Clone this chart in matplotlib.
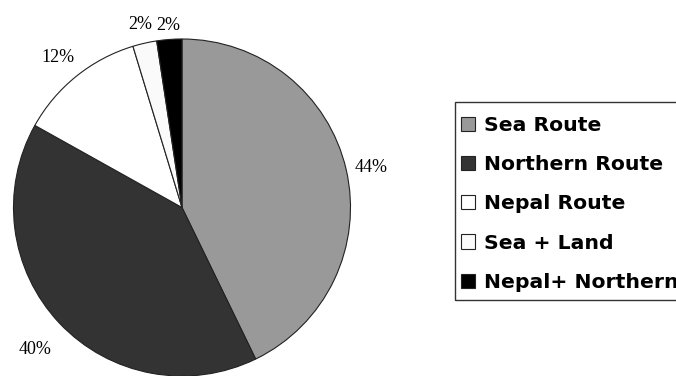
import matplotlib
matplotlib.use("Agg")
import matplotlib.pyplot as plt
from matplotlib.patches import Rectangle
import numpy as np

categories = ["Sea Route", "Northern Route", "Nepal Route", "Sea + Land", "Nepal+ Northern"]
values = [42.8, 40.3, 12.2, 2.3, 2.4]          # wedge sizes as drawn in the picture
labels = ["44%", "40%", "12%", "2%", "2%"]      # printed labels
colors = ["#999999", "#333333", "#ffffff", "#fafafa", "#000000"]

# layout: radial distance of each label (in pie radii)
label_dist = [1.15, 1.20, 1.17, 1.13, 1.10]

W, H = 676, 376
fig = plt.figure(figsize=(W / 100, H / 100), dpi=100)
cx, cy, r = 182, 207.5, 168.5
ax = fig.add_axes([(cx - r) / W, (H - cy - r) / H, 2 * r / W, 2 * r / H])

label_iter = iter(labels)
wedges, texts, pcts = ax.pie(values, colors=colors, startangle=90, counterclock=False,
                             autopct=lambda p: next(label_iter), pctdistance=1.16,
                             wedgeprops=dict(edgecolor="#222222", linewidth=0.8),
                             textprops=dict(family="Liberation Serif", fontsize=13))
dy = -3.0 / r
for w, t, d in zip(wedges, pcts, label_dist):
    mid = np.deg2rad((w.theta1 + w.theta2) / 2)
    t.set_position((d * np.cos(mid), d * np.sin(mid) + dy))
ax.set_xlim(-1, 1)
ax.set_ylim(-1, 1)
ax.set_aspect("equal")
ax.axis("off")

# legend entries (frame drawn separately)
leg = fig.legend(wedges, categories, loc="upper left",
                 bbox_to_anchor=(459 / W, 1 - 114 / H),
                 prop=dict(family="DejaVu Sans", weight="bold", size=14.7),
                 handlelength=0.7, handleheight=0.7, handletextpad=0.4,
                 labelspacing=0.99, borderpad=0.1, borderaxespad=0,
                 frameon=False)
fig.patches.append(Rectangle((455 / W, 1 - 300 / H), 240 / W, 198 / H,
                             transform=fig.transFigure, fill=False,
                             edgecolor="#333333", linewidth=1.0))

fig.savefig("out.png", dpi=100)
